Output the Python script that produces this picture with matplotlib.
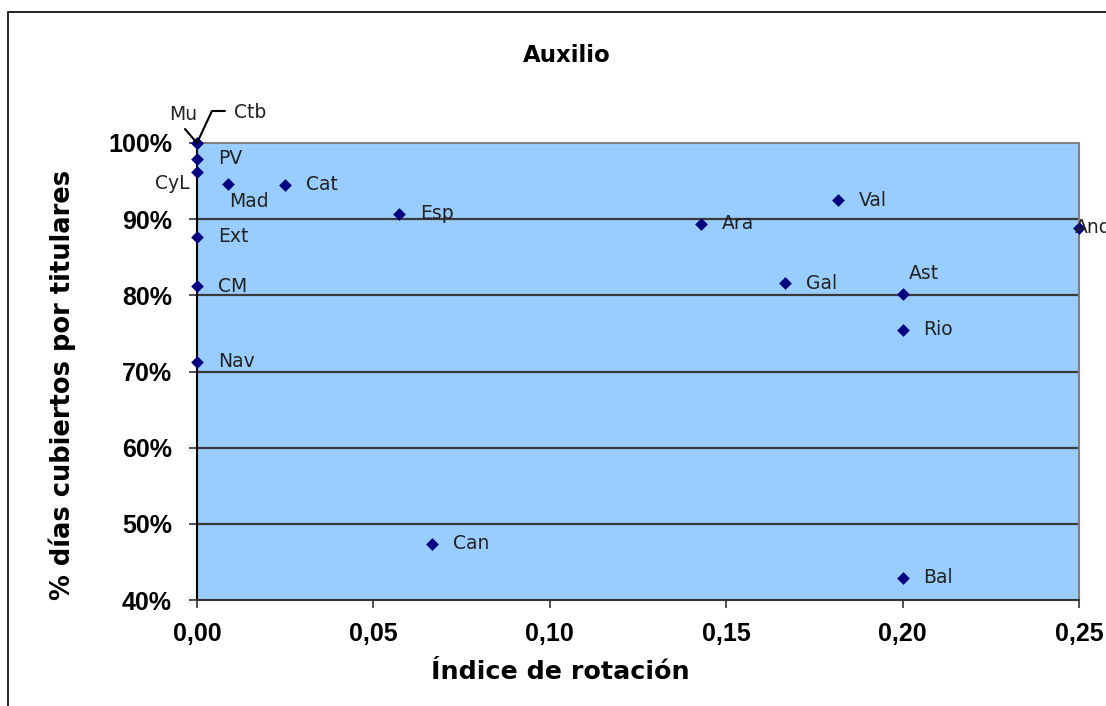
import matplotlib.pyplot as plt
import matplotlib.patches as mpatches
from matplotlib.ticker import FuncFormatter, MultipleLocator

# Datos: índice de rotación vs % días cubiertos por titulares
regiones = ['Mu', 'Ctb', 'PV', 'CyL', 'Mad', 'Cat', 'Esp', 'Ext', 'CM', 'Nav',
            'Ara', 'Val', 'And', 'Gal', 'Ast', 'Rio', 'Can', 'Bal']
rotacion = [0.0, 0.0, 0.0, 0.0, 0.0088, 0.0249, 0.0573, 0.0, 0.0, 0.0,
            0.1429, 0.1817, 0.25, 0.1667, 0.20, 0.20, 0.0666, 0.20]
cobertura = [1.00, 1.00, 0.979, 0.962, 0.946, 0.945, 0.907, 0.877, 0.812, 0.713,
             0.894, 0.925, 0.889, 0.816, 0.802, 0.755, 0.474, 0.429]

# desplazamiento de las etiquetas en píxeles (x, y) y alineación
offsets = {
    'Mu': (0, 29, 'right'),
    'Ctb': (37, 30, 'left'),
    'CyL': (-7, -12, 'right'),
    'Mad': (1, -17, 'left'),
    'Ast': (6, 20, 'left'),
    'And': (-4, 0, 'left'),
}

fig = plt.figure(figsize=(11.06, 7.06), dpi=100)
px = 72 / 100  # puntos por píxel

# marco exterior
fig.patches.append(mpatches.Rectangle((8 / 1106, -0.2), 1.2, 1.2 - 12 / 706,
                                      transform=fig.transFigure, fill=False,
                                      edgecolor='black', linewidth=1.2))

ax = fig.add_axes([197 / 1106, 1 - 600 / 706, 882 / 1106, 457 / 706])
ax.set_facecolor('#99CCFF')
ax.set_xlim(0, 0.25)
ax.set_ylim(0.40, 1.00)
ax.xaxis.set_major_locator(MultipleLocator(0.05))
ax.yaxis.set_major_locator(MultipleLocator(0.10))
ax.xaxis.set_major_formatter(FuncFormatter(lambda v, p: f'{v:.2f}'.replace('.', ',')))
ax.yaxis.set_major_formatter(FuncFormatter(lambda v, p: f'{v * 100:.0f}%'))

for y in [0.5, 0.6, 0.7, 0.8, 0.9]:
    ax.axhline(y, color='#3a3a3a', linewidth=1.6, zorder=1)

ax.scatter(rotacion, cobertura, marker='D', s=42, color='#000080', zorder=3,
           clip_on=False, linewidths=0)

for nombre, x, y in zip(regiones, rotacion, cobertura):
    dx, dy, ha = offsets.get(nombre, (21, 0, 'left'))
    ax.annotate(nombre, (x, y), xytext=(dx * px, dy * px), textcoords='offset points',
                ha=ha, va='center', fontsize=13.5, color='#222222',
                annotation_clip=False, zorder=4)
    if nombre == 'Mu':
        ax.annotate('', (x, y), xytext=(-12 * px, 14 * px), textcoords='offset points',
                    arrowprops=dict(arrowstyle='-', color='black', lw=1.5,
                                    shrinkA=0, shrinkB=0), annotation_clip=False)
    elif nombre == 'Ctb':
        ax.annotate('', (x, y), xytext=(28 * px, 32 * px), textcoords='offset points',
                    arrowprops=dict(arrowstyle='-', color='black', lw=1.5,
                                    connectionstyle='angle,angleA=0,angleB=65,rad=0',
                                    shrinkA=0, shrinkB=0), annotation_clip=False)

for lado in ['top', 'right']:
    ax.spines[lado].set_color('#808080')
    ax.spines[lado].set_linewidth(1.5)
ax.spines['left'].set_color('black')
ax.spines['left'].set_linewidth(1.5)
ax.spines['bottom'].set_color('#333333')
ax.spines['bottom'].set_linewidth(1.5)

ax.tick_params(axis='both', direction='out', length=6, width=1.2, color='#333333')
ax.tick_params(axis='y', pad=12)
ax.tick_params(axis='x', pad=10)
for lbl in ax.get_xticklabels() + ax.get_yticklabels():
    lbl.set_fontfamily('Liberation Sans')
    lbl.set_fontweight('bold')
    lbl.set_fontsize(18)

fig.text(567 / 1106, 1 - 55 / 706, 'Auxilio', ha='center', va='center',
         fontsize=16.5, fontweight='bold')
fig.text(560 / 1106, 1 - 672 / 706, 'Índice de rotación', ha='center', va='center',
         fontsize=18.3, fontweight='bold')
fig.text(62 / 1106, 1 - 385 / 706, '% días cubiertos por titulares', ha='center',
         va='center', rotation=90, fontsize=18.5, fontweight='bold')

fig.savefig('out.png', dpi=100)
